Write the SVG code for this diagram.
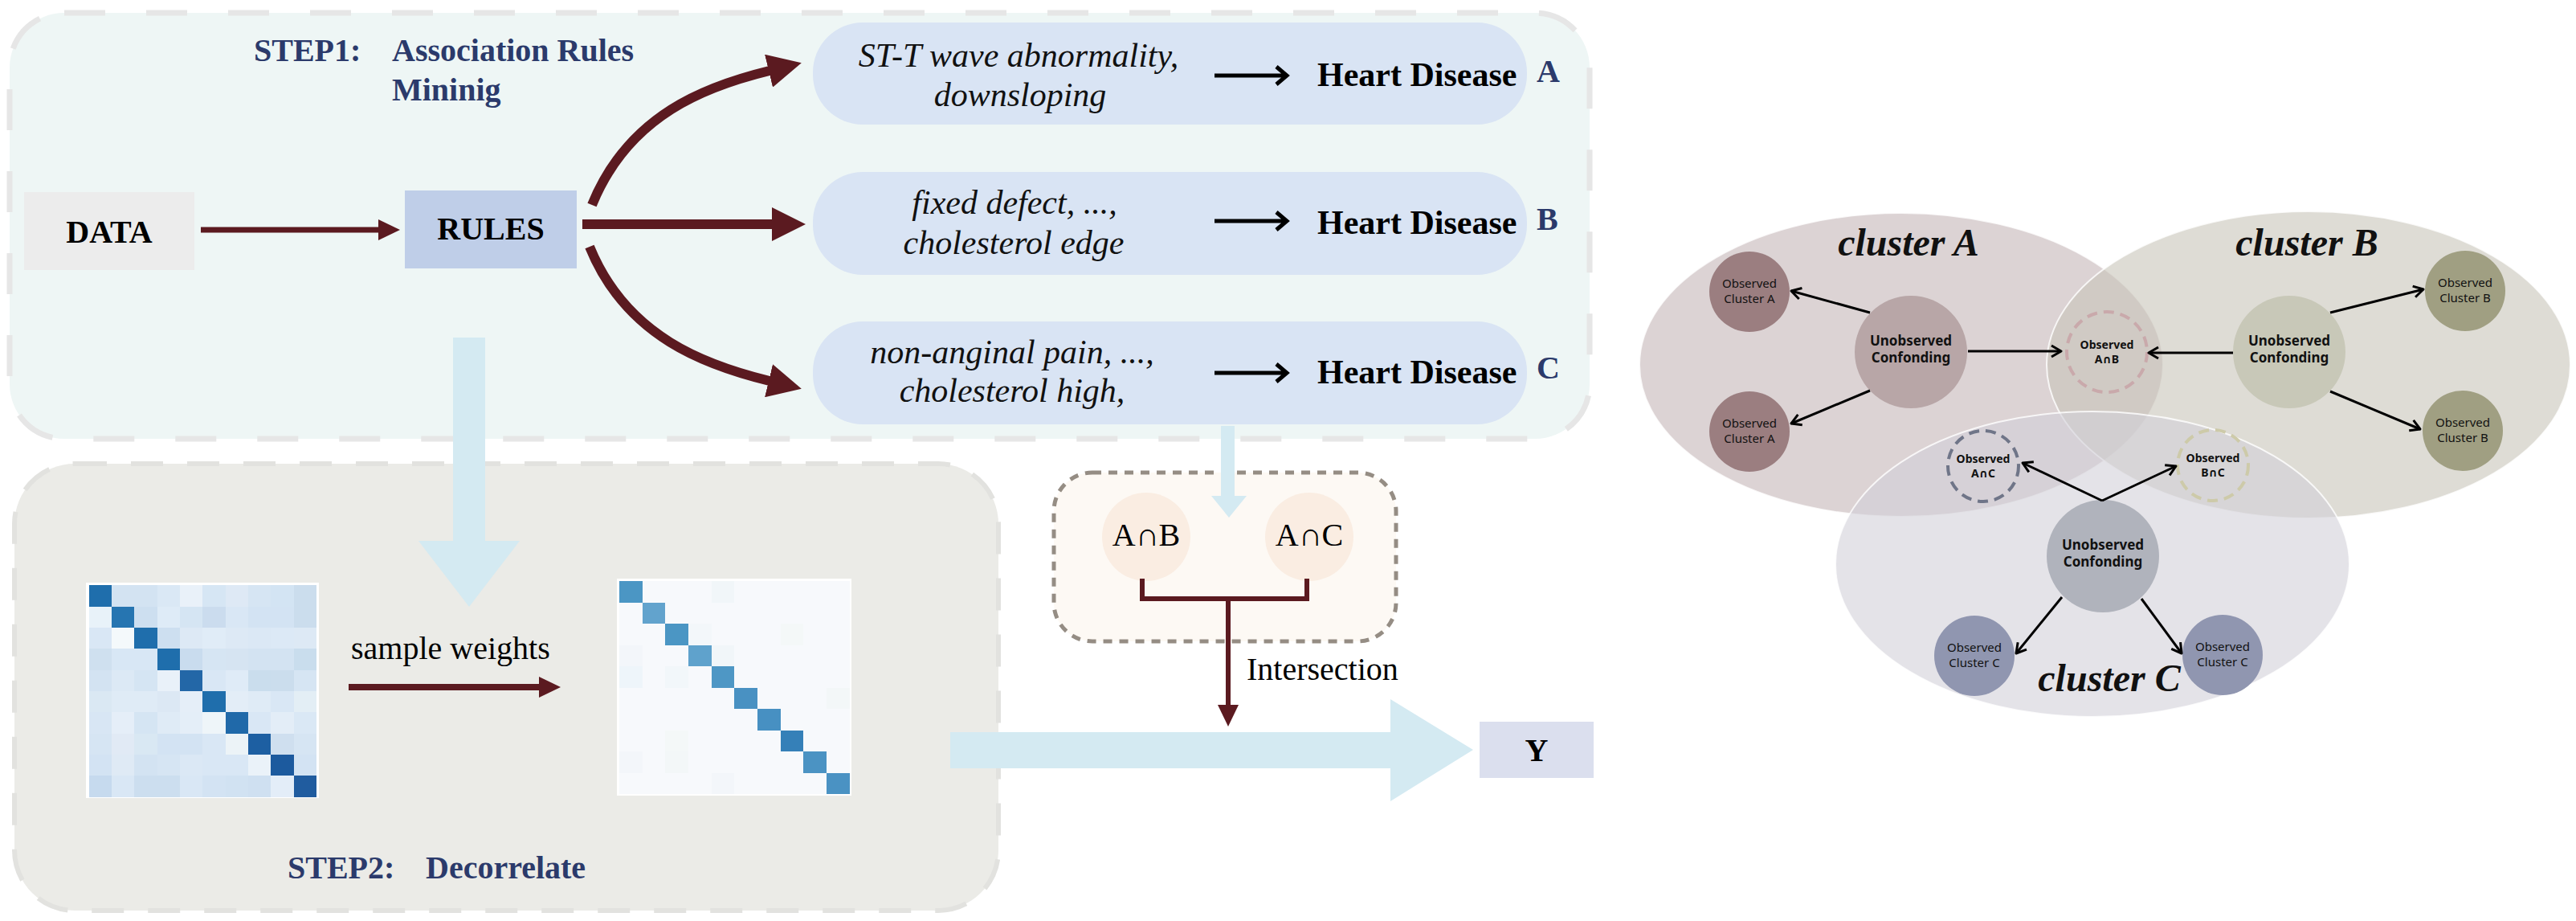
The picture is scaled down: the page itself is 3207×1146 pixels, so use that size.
<svg xmlns="http://www.w3.org/2000/svg" width="3207" height="1146" viewBox="0 0 3207 1146">
<defs>
<style>
.navy{font-family:"Liberation Serif","Times New Roman",serif;fill:#2b3a6b;font-weight:bold;font-size:40px}
.blk{font-family:"Liberation Serif","Times New Roman",serif;font-weight:bold;font-size:40px;fill:#000;text-anchor:middle}
.reg{font-family:"Liberation Serif","Times New Roman",serif;font-size:40px;fill:#000}
.rule{font-family:"Liberation Serif","Times New Roman",serif;font-style:italic;font-size:42px;fill:#111;text-anchor:middle}
.hd{font-family:"Liberation Serif","Times New Roman",serif;font-weight:bold;font-size:42px;fill:#000}
.lab{font-family:"Liberation Serif","Times New Roman",serif;font-weight:bold;font-size:40px;fill:#2b3a6b}
.sans{font-family:"Noto Sans","DejaVu Sans",sans-serif;fill:#111;text-anchor:middle}
.obs{font-size:15px}
.unobs{font-size:17px;font-weight:bold}
.dsh{font-size:14px;font-weight:bold}
.clu{font-family:"Liberation Serif","Times New Roman",serif;font-style:italic;font-weight:bold;font-size:48px;fill:#111;text-anchor:middle}
.maroon{stroke:#5b1a20;fill:none}
.conn{stroke:#000;stroke-width:3;fill:none;marker-end:url(#open)}
.hdarrow{stroke:#000;stroke-width:5;fill:none}
.lb{fill:#d4eaf2}
.ell{stroke:#fff;stroke-width:2;stroke-opacity:0.8}
</style>
<marker id="mhead" markerUnits="userSpaceOnUse" viewBox="0 0 42 42" markerWidth="42" markerHeight="42" refX="1" refY="21" orient="auto"><path d="M0,0 L42,21 L0,42 z" fill="#5b1a20"/></marker>
<marker id="shead" markerUnits="userSpaceOnUse" viewBox="0 0 27 26" markerWidth="27" markerHeight="26" refX="1" refY="13" orient="auto"><path d="M0,0 L27,13 L0,26 z" fill="#5b1a20"/></marker>
<marker id="open" markerUnits="userSpaceOnUse" viewBox="-15 -10 17 20" markerWidth="17" markerHeight="20" refX="0" refY="0" orient="auto"><path d="M-12,-7 L0,0 L-12,7" fill="none" stroke="#000" stroke-width="3" stroke-linejoin="round"/></marker>
</defs>
<rect width="3207" height="1146" fill="#fff"/>

<!-- STEP1 container -->
<g id="step1">
<rect x="12" y="16" width="1967" height="530" rx="68" fill="#eef6f5" stroke="#e6e6e6" stroke-width="7" stroke-dasharray="51 51"/>
<text class="navy" y="76"><tspan x="316">STEP1:</tspan><tspan x="488">Association Rules</tspan></text>
<text class="navy" x="488" y="125">Mininig</text>
</g>

<!-- STEP2 container -->
<g id="step2">
<rect x="18" y="577" width="1225" height="556" rx="75" fill="#ebebe7" stroke="#e2e2df" stroke-width="6" stroke-dasharray="40 30"/>
<text class="navy" y="1093"><tspan x="358">STEP2:</tspan><tspan x="530">Decorrelate</tspan></text>
</g>

<!-- intersection group background -->
<g id="intersection">
<rect x="1312" y="588" width="426" height="210" rx="48" fill="#fdf9f4" stroke="#958d84" stroke-width="5" stroke-dasharray="11 9"/>
<g id="node-ab">
<circle cx="1427" cy="668" r="55" fill="#faede2"/>
<text class="reg" x="1427" y="679" text-anchor="middle" font-size="32">A∩B</text>
</g>
<g id="node-ac">
<circle cx="1630" cy="668" r="55" fill="#faede2"/>
<text class="reg" x="1630" y="679" text-anchor="middle" font-size="32">A∩C</text>
</g>
</g>

<!-- big light-blue arrows -->
<g id="flow-arrows">
<path class="lb" d="M564,420 H604 V673 H647 L584,755 L521,673 H564 Z"/>
<path class="lb" d="M1520,530 H1537 V617 H1552 L1530,644 L1508,617 H1520 Z"/>
<path class="lb" d="M1183,911 H1731 V870 L1834,933 L1731,997 V956 H1183 Z"/>
</g>

<g id="data">
<rect x="30" y="239" width="212" height="97" fill="#ececec"/>
<text class="blk" x="136" y="302">DATA</text>
</g>

<g id="rules">
<rect x="504" y="237" width="214" height="97" fill="#bfcee8"/>
<text class="blk" x="611" y="298">RULES</text>
</g>

<g id="rule-a">
<rect x="1012" y="28" width="889" height="127" rx="62" fill="#d9e4f4"/>
<text class="rule" x="1268" y="83">ST-T wave abnormality,</text>
<text class="rule" x="1270" y="132">downsloping</text>
<path class="hdarrow" d="M1512,94 H1601 M1589,83 L1602,94 L1589,105"/>
<text class="hd" x="1640" y="107">Heart Disease</text>
<text class="lab" x="1913" y="102">A</text>
</g>

<g id="rule-b">
<rect x="1012" y="214" width="889" height="128" rx="62" fill="#d9e4f4"/>
<text class="rule" x="1263" y="266">fixed defect, ...,</text>
<text class="rule" x="1262" y="316">cholesterol edge</text>
<path class="hdarrow" d="M1512,275 H1601 M1589,264 L1602,275 L1589,286"/>
<text class="hd" x="1640" y="291">Heart Disease</text>
<text class="lab" x="1913" y="286">B</text>
</g>

<g id="rule-c">
<rect x="1012" y="400" width="889" height="128" rx="62" fill="#d9e4f4"/>
<text class="rule" x="1260" y="452">non-anginal pain, ...,</text>
<text class="rule" x="1260" y="500">cholesterol high,</text>
<path class="hdarrow" d="M1512,464 H1601 M1589,453 L1602,464 L1589,475"/>
<text class="hd" x="1640" y="477">Heart Disease</text>
<text class="lab" x="1913" y="471">C</text>
</g>

<!-- matrix before -->
<g id="matrix-before">
<rect x="107" y="725" width="290" height="268" fill="#fff"/>
<g transform="translate(110.7,728.3) scale(28.33,26.33)" shape-rendering="crispEdges">
<rect x="0" y="0" width="1" height="1" fill="#1f6eac"/><rect x="1" y="0" width="1" height="1" fill="#d3e3f2"/><rect x="2" y="0" width="1" height="1" fill="#d3e3f2"/><rect x="3" y="0" width="1" height="1" fill="#dae8f5"/><rect x="4" y="0" width="1" height="1" fill="#e9f1f9"/><rect x="5" y="0" width="1" height="1" fill="#d6e6f4"/><rect x="6" y="0" width="1" height="1" fill="#dee9f5"/><rect x="7" y="0" width="1" height="1" fill="#d6e5f3"/><rect x="8" y="0" width="1" height="1" fill="#d3e4f3"/><rect x="9" y="0" width="1" height="1" fill="#cbdded"/>
<rect x="0" y="1" width="1" height="1" fill="#e8f2f9"/><rect x="1" y="1" width="1" height="1" fill="#2675b1"/><rect x="2" y="1" width="1" height="1" fill="#cddff0"/><rect x="3" y="1" width="1" height="1" fill="#deebf7"/><rect x="4" y="1" width="1" height="1" fill="#d5e5f3"/><rect x="5" y="1" width="1" height="1" fill="#cbdcee"/><rect x="6" y="1" width="1" height="1" fill="#d9e7f5"/><rect x="7" y="1" width="1" height="1" fill="#d3e3f3"/><rect x="8" y="1" width="1" height="1" fill="#d3e3f3"/><rect x="9" y="1" width="1" height="1" fill="#cbdded"/>
<rect x="0" y="2" width="1" height="1" fill="#d9e7f5"/><rect x="1" y="2" width="1" height="1" fill="#f4f9fb"/><rect x="2" y="2" width="1" height="1" fill="#1f6eac"/><rect x="3" y="2" width="1" height="1" fill="#cddff0"/><rect x="4" y="2" width="1" height="1" fill="#dde9f5"/><rect x="5" y="2" width="1" height="1" fill="#e0ecf7"/><rect x="6" y="2" width="1" height="1" fill="#dde9f5"/><rect x="7" y="2" width="1" height="1" fill="#dbe8f5"/><rect x="8" y="2" width="1" height="1" fill="#dce9f6"/><rect x="9" y="2" width="1" height="1" fill="#dde9f5"/>
<rect x="0" y="3" width="1" height="1" fill="#cfe0ef"/><rect x="1" y="3" width="1" height="1" fill="#d8e7f5"/><rect x="2" y="3" width="1" height="1" fill="#d8e7f5"/><rect x="3" y="3" width="1" height="1" fill="#1f6eac"/><rect x="4" y="3" width="1" height="1" fill="#c9dcee"/><rect x="5" y="3" width="1" height="1" fill="#d6e5f3"/><rect x="6" y="3" width="1" height="1" fill="#d6e4f2"/><rect x="7" y="3" width="1" height="1" fill="#d3e3f2"/><rect x="8" y="3" width="1" height="1" fill="#d3e3f2"/><rect x="9" y="3" width="1" height="1" fill="#c9dded"/>
<rect x="0" y="4" width="1" height="1" fill="#d3e3f2"/><rect x="1" y="4" width="1" height="1" fill="#dce9f5"/><rect x="2" y="4" width="1" height="1" fill="#d5e5f3"/><rect x="3" y="4" width="1" height="1" fill="#e9f1f9"/><rect x="4" y="4" width="1" height="1" fill="#2367a7"/><rect x="5" y="4" width="1" height="1" fill="#d9e7f5"/><rect x="6" y="4" width="1" height="1" fill="#dfebf7"/><rect x="7" y="4" width="1" height="1" fill="#cadded"/><rect x="8" y="4" width="1" height="1" fill="#cbdded"/><rect x="9" y="4" width="1" height="1" fill="#d6e5f3"/>
<rect x="0" y="5" width="1" height="1" fill="#dae8f3"/><rect x="1" y="5" width="1" height="1" fill="#dfebf6"/><rect x="2" y="5" width="1" height="1" fill="#dfebf6"/><rect x="3" y="5" width="1" height="1" fill="#dce8f4"/><rect x="4" y="5" width="1" height="1" fill="#e5eef8"/><rect x="5" y="5" width="1" height="1" fill="#1f6eac"/><rect x="6" y="5" width="1" height="1" fill="#e3edf7"/><rect x="7" y="5" width="1" height="1" fill="#dfebf6"/><rect x="8" y="5" width="1" height="1" fill="#d9e7f5"/><rect x="9" y="5" width="1" height="1" fill="#e3eef5"/>
<rect x="0" y="6" width="1" height="1" fill="#d8e6f4"/><rect x="1" y="6" width="1" height="1" fill="#e5eef8"/><rect x="2" y="6" width="1" height="1" fill="#d5e5f3"/><rect x="3" y="6" width="1" height="1" fill="#dfebf6"/><rect x="4" y="6" width="1" height="1" fill="#e4eef8"/><rect x="5" y="6" width="1" height="1" fill="#eef5f9"/><rect x="6" y="6" width="1" height="1" fill="#2069a9"/><rect x="7" y="6" width="1" height="1" fill="#d9e7f5"/><rect x="8" y="6" width="1" height="1" fill="#e3edf7"/><rect x="9" y="6" width="1" height="1" fill="#dae8f5"/>
<rect x="0" y="7" width="1" height="1" fill="#d6e5f3"/><rect x="1" y="7" width="1" height="1" fill="#e1eaf5"/><rect x="2" y="7" width="1" height="1" fill="#d9e8f3"/><rect x="3" y="7" width="1" height="1" fill="#d3e3f3"/><rect x="4" y="7" width="1" height="1" fill="#d3e3f3"/><rect x="5" y="7" width="1" height="1" fill="#d9e7f5"/><rect x="6" y="7" width="1" height="1" fill="#ecf3f7"/><rect x="7" y="7" width="1" height="1" fill="#1d5fa2"/><rect x="8" y="7" width="1" height="1" fill="#cfdfef"/><rect x="9" y="7" width="1" height="1" fill="#d6e5f3"/>
<rect x="0" y="8" width="1" height="1" fill="#d3e3f3"/><rect x="1" y="8" width="1" height="1" fill="#dfeaf5"/><rect x="2" y="8" width="1" height="1" fill="#d3e3f2"/><rect x="3" y="8" width="1" height="1" fill="#d6e5f3"/><rect x="4" y="8" width="1" height="1" fill="#dbe8f5"/><rect x="5" y="8" width="1" height="1" fill="#d9e7f5"/><rect x="6" y="8" width="1" height="1" fill="#d9e7f5"/><rect x="7" y="8" width="1" height="1" fill="#eaf2f9"/><rect x="8" y="8" width="1" height="1" fill="#1c5a9e"/><rect x="9" y="8" width="1" height="1" fill="#d3e3f3"/>
<rect x="0" y="9" width="1" height="1" fill="#c6daee"/><rect x="1" y="9" width="1" height="1" fill="#d9e7f5"/><rect x="2" y="9" width="1" height="1" fill="#ccdeef"/><rect x="3" y="9" width="1" height="1" fill="#ccdeef"/><rect x="4" y="9" width="1" height="1" fill="#d9e7f5"/><rect x="5" y="9" width="1" height="1" fill="#d3e3f3"/><rect x="6" y="9" width="1" height="1" fill="#d1e2f2"/><rect x="7" y="9" width="1" height="1" fill="#cfe0f1"/><rect x="8" y="9" width="1" height="1" fill="#e3edf8"/><rect x="9" y="9" width="1" height="1" fill="#205c9f"/>
</g>
</g>

<!-- matrix after -->
<g id="matrix-after">
<rect x="768" y="720" width="292" height="270" fill="#fff"/>
<g transform="translate(771,723) scale(28.67,26.5)" shape-rendering="crispEdges">
<rect x="0" y="0" width="10" height="10" fill="#f7f9fc"/>
<rect x="4" y="0" width="1" height="1" fill="#f1f6f9"/><rect x="0" y="3" width="1" height="1" fill="#f3f6fa"/><rect x="4" y="3" width="1" height="1" fill="#f1f6f9"/><rect x="0" y="4" width="1" height="1" fill="#eef5fa"/><rect x="2" y="4" width="1" height="1" fill="#f2f7fa"/><rect x="3" y="2" width="1" height="1" fill="#f3f7fa"/><rect x="9" y="5" width="1" height="1" fill="#f3f7f8"/><rect x="2" y="7" width="1" height="1" fill="#f4f8f8"/><rect x="2" y="8" width="1" height="1" fill="#f3f7f8"/><rect x="0" y="8" width="1" height="1" fill="#f3f6fa"/><rect x="4" y="9" width="1" height="1" fill="#f3f6fa"/><rect x="7" y="2" width="1" height="1" fill="#f4f8f8"/>
<rect x="0" y="0" width="1" height="1" fill="#4b96c4"/><rect x="1" y="1" width="1" height="1" fill="#62a3cd"/><rect x="2" y="2" width="1" height="1" fill="#4b96c4"/><rect x="3" y="3" width="1" height="1" fill="#5fa2cc"/><rect x="4" y="4" width="1" height="1" fill="#4e97c5"/><rect x="5" y="5" width="1" height="1" fill="#4991c2"/><rect x="6" y="6" width="1" height="1" fill="#4790c2"/><rect x="7" y="7" width="1" height="1" fill="#3580b8"/><rect x="8" y="8" width="1" height="1" fill="#4b93c3"/><rect x="9" y="9" width="1" height="1" fill="#4a92c3"/>
</g>
</g>

<g id="node-y">
<rect x="1842" y="898" width="142" height="70" fill="#dbdfee"/>
<text class="blk" x="1913" y="947">Y</text>
</g>

<!-- connectors -->
<g id="connectors">
<path class="maroon" stroke-width="7" d="M250,286 H472" marker-end="url(#shead)"/>
<path class="maroon" stroke-width="12" d="M737,255 C783,142 880,107 958,88" marker-end="url(#mhead)"/>
<path class="maroon" stroke-width="12" d="M725,279 H962" marker-end="url(#mhead)"/>
<path class="maroon" stroke-width="12" d="M734,307 C780,420 880,455 958,474" marker-end="url(#mhead)"/>
<path class="maroon" stroke-width="8" d="M434,855 H672" marker-end="url(#shead)"/>
<path class="maroon" stroke-width="6" d="M1422,720 V745 H1627 V720"/>
<path class="maroon" stroke-width="6" d="M1529,745 V878" marker-end="url(#shead)"/>
<text class="reg" x="437" y="820">sample weights</text>
<text class="reg" x="1552" y="846" font-size="41">Intersection</text>
</g>

<!-- cluster diagram -->
<g id="cluster-a">
<ellipse class="ell" cx="2367" cy="454" rx="326" ry="189" fill="#c5b6b7" fill-opacity="0.6"/>
</g>
<g id="cluster-b">
<ellipse class="ell" cx="2874" cy="454" rx="326" ry="191" fill="#c8c5b9" fill-opacity="0.6"/>
</g>
<g id="cluster-c">
<ellipse class="ell" cx="2605" cy="702" rx="320" ry="190" fill="#d2d0d9" fill-opacity="0.6"/>
</g>
<text class="clu" x="2376" y="318">cluster A</text>
<text class="clu" x="2872" y="318">cluster B</text>
<text class="clu" x="2626" y="860">cluster C</text>

<g id="obs-a1"><circle cx="2178" cy="363" r="50" fill="#9b7e80"/><text class="sans obs" x="2178" y="358">Observed</text><text class="sans obs" x="2178" y="377">Cluster A</text></g>
<g id="obs-a2"><circle cx="2178" cy="537" r="50" fill="#9b7e80"/><text class="sans obs" x="2178" y="532">Observed</text><text class="sans obs" x="2178" y="551">Cluster A</text></g>
<g id="unobs-a"><circle cx="2379" cy="438" r="70" fill="#b8a6a7"/><text class="sans unobs" x="2379" y="430">Unobserved</text><text class="sans unobs" x="2379" y="451">Confonding</text></g>

<g id="obs-b1"><circle cx="3069" cy="362" r="50" fill="#a09f82"/><text class="sans obs" x="3069" y="357">Observed</text><text class="sans obs" x="3069" y="376">Cluster B</text></g>
<g id="obs-b2"><circle cx="3066" cy="536" r="50" fill="#a09f82"/><text class="sans obs" x="3066" y="531">Observed</text><text class="sans obs" x="3066" y="550">Cluster B</text></g>
<g id="unobs-b"><circle cx="2850" cy="438" r="70" fill="#c8c8b8"/><text class="sans unobs" x="2850" y="430">Unobserved</text><text class="sans unobs" x="2850" y="451">Confonding</text></g>

<g id="obs-c1"><circle cx="2458" cy="816" r="50" fill="#9096b0"/><text class="sans obs" x="2458" y="811">Observed</text><text class="sans obs" x="2458" y="830">Cluster C</text></g>
<g id="obs-c2"><circle cx="2767" cy="815" r="50" fill="#9096b0"/><text class="sans obs" x="2767" y="810">Observed</text><text class="sans obs" x="2767" y="829">Cluster C</text></g>
<g id="unobs-c"><circle cx="2618" cy="692" r="70" fill="#b0b3bc"/><text class="sans unobs" x="2618" y="684">Unobserved</text><text class="sans unobs" x="2618" y="705">Confonding</text></g>

<g id="obs-anb"><circle cx="2623" cy="438" r="50" fill="none" stroke="#c9a9ab" stroke-width="4" stroke-dasharray="13 8"/><text class="sans dsh" x="2623" y="434">Observed</text><text class="sans dsh" x="2623" y="452">A∩B</text></g>
<g id="obs-anc"><circle cx="2469" cy="580" r="44" fill="none" stroke="#6f7588" stroke-width="4" stroke-dasharray="13 8"/><text class="sans dsh" x="2469" y="576">Observed</text><text class="sans dsh" x="2469" y="594">A∩C</text></g>
<g id="obs-bnc"><circle cx="2755" cy="579" r="44" fill="none" stroke="#cdcaa9" stroke-width="4" stroke-dasharray="13 8"/><text class="sans dsh" x="2755" y="575">Observed</text><text class="sans dsh" x="2755" y="593">B∩C</text></g>

<g id="cluster-connectors">
<path class="conn" d="M2328,389 L2230,362"/>
<path class="conn" d="M2328,486 L2230,527"/>
<path class="conn" d="M2450,437 L2566,437"/>
<path class="conn" d="M2901,389 L3017,360"/>
<path class="conn" d="M2901,487 L3013,534"/>
<path class="conn" d="M2780,439 L2675,439"/>
<path class="conn" d="M2617,623 L2518,576"/>
<path class="conn" d="M2617,623 L2709,580"/>
<path class="conn" d="M2567,743 L2510,813"/>
<path class="conn" d="M2666,745 L2716,813"/>
</g>
</svg>
